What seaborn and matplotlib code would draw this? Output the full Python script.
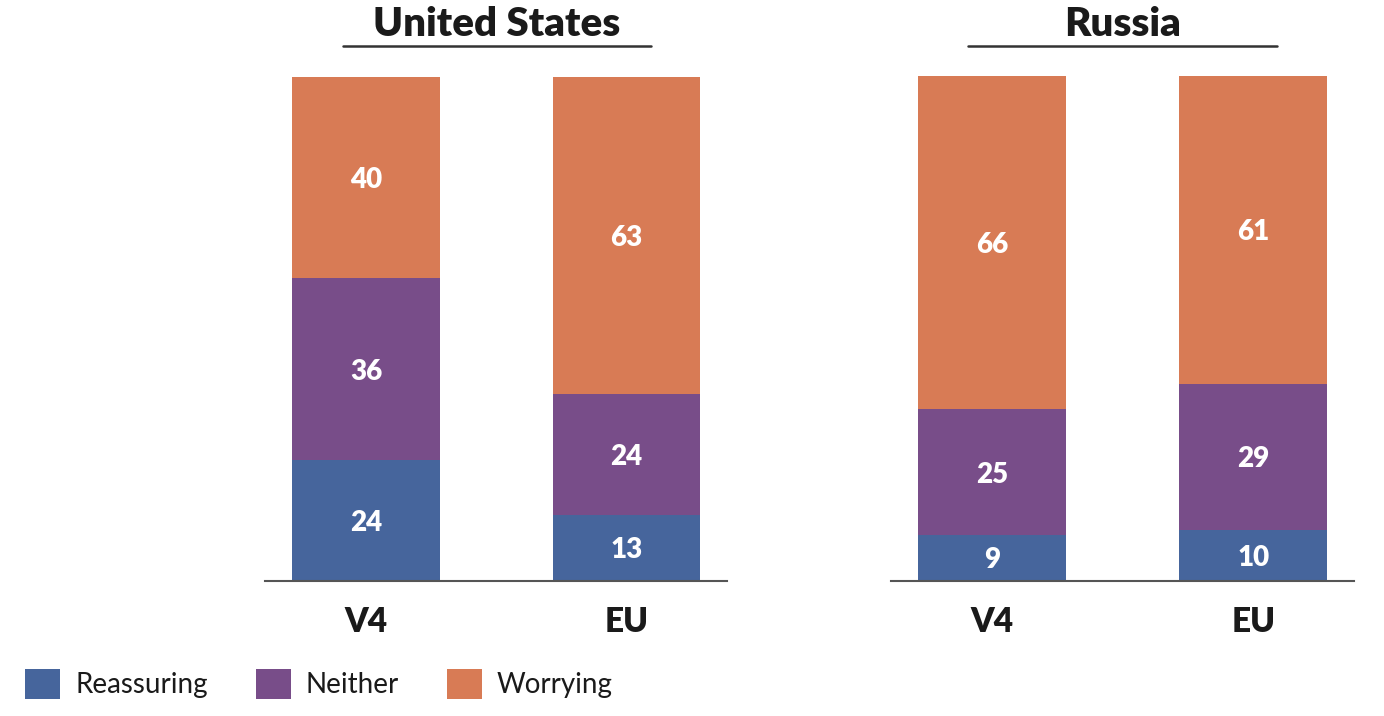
import matplotlib
matplotlib.use("Agg")
import matplotlib.pyplot as plt
from matplotlib.lines import Line2D
from matplotlib.patches import Patch
import seaborn as sns
import numpy as np

# ---- data ----
groups = ["V4", "EU"]
panel_titles = ["United States", "Russia"]
series_names = ["Reassuring", "Neither", "Worrying"]
us_reassuring = [24, 13]
us_neither = [36, 24]
us_worrying = [40, 63]
ru_reassuring = [9, 10]
ru_neither = [25, 29]
ru_worrying = [66, 61]

colors = ["#46659c", "#784d89", "#d87b55"]

sns.set_theme(style="white")
plt.rcParams['font.family'] = ['Lato', 'DejaVu Sans']

W, H = 1384, 716
fig = plt.figure(figsize=(W / 100, H / 100), dpi=100)

def px_axes(x0, x1, ytop, ybot):
    return fig.add_axes([x0 / W, 1 - ybot / H, (x1 - x0) / W, (ybot - ytop) / H])

panels = [
    (px_axes(265, 727, 77, 580.5), [us_reassuring, us_neither, us_worrying], (343, 651)),
    (px_axes(891, 1354, 76, 580.5), [ru_reassuring, ru_neither, ru_worrying], (968, 1277)),
]

for (ax, series, (ux0, ux1)), title in zip(panels, panel_titles):
    arr = np.array(series, dtype=float)
    cum = np.cumsum(arr, axis=0)
    # draw from top (total) down so lower segments overlay
    for k in range(len(series) - 1, -1, -1):
        sns.barplot(x=groups, y=cum[k], color=colors[k], width=0.568,
                    saturation=1, ax=ax, linewidth=0, order=groups)
    for k in range(len(series)):
        for i in range(len(groups)):
            bottom = cum[k][i] - arr[k][i]
            ax.text(i, bottom + arr[k][i] / 2, f"{int(arr[k][i])}", ha="center",
                    va="center_baseline", color="white", fontsize=20,
                    fontweight="heavy")
    ax.set_xlim(-0.388, 1.386)
    ax.set_ylim(0, 100)
    ax.set_yticks([])
    ax.set_ylabel("")
    for s in ["top", "right", "left"]:
        ax.spines[s].set_visible(False)
    ax.spines["bottom"].set_color("#555555")
    ax.spines["bottom"].set_linewidth(1.5)
    ax.tick_params(axis="x", length=0, pad=18)
    for lab in ax.get_xticklabels():
        lab.set_fontsize(24)
        lab.set_fontweight("heavy")
        lab.set_color("#1a1a1a")
    # title + underline
    cx = (ux0 + ux1) / 2
    fig.text(cx / W, 1 - 25 / H, title, ha="center", va="center",
             fontsize=29, fontweight="heavy", color="#1a1a1a")
    fig.add_artist(Line2D([ux0 / W, ux1 / W], [1 - 46 / H, 1 - 46 / H],
                          color="#333333", linewidth=1.8))

handles = [Patch(facecolor=c, edgecolor="none") for c in colors]
fig.legend(handles, series_names, loc="center left",
           bbox_to_anchor=(0, 1 - 684 / H), ncol=3, frameon=False,
           fontsize=20, handlelength=1.26, handleheight=1.26,
           handletextpad=0.54, columnspacing=1.73, labelcolor="#1a1a1a")

fig.savefig("out.png", dpi=100)
